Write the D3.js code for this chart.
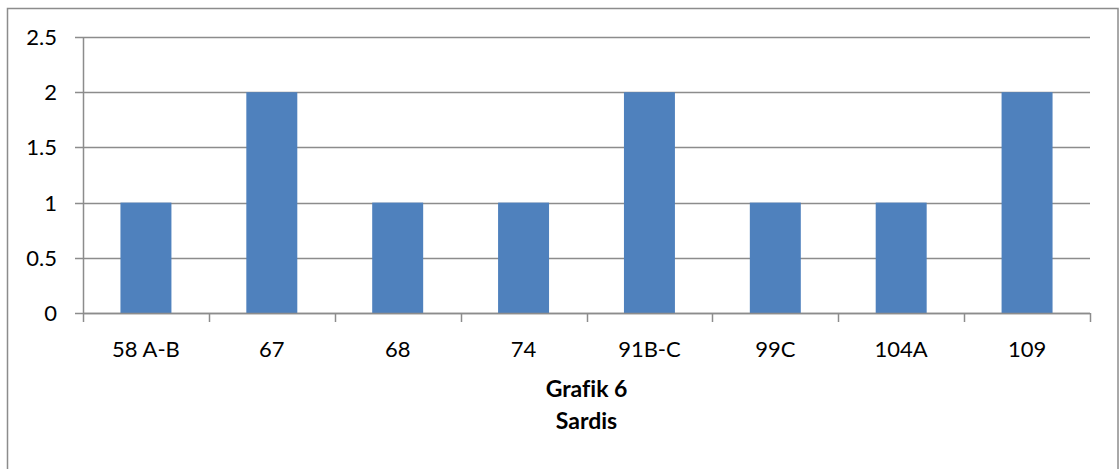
<!DOCTYPE html>
<html><head><meta charset="utf-8">
<script src="https://cdn.jsdelivr.net/npm/d3@7"></script>
<style>html,body{margin:0;padding:0;background:#fff;}svg{display:block;}text{font-variant-ligatures:none;}</style>
</head><body>
<svg id="c" width="1120" height="469"></svg>
<script>
const categories = ["58 A-B","67","68","74","91B-C","99C","104A","109"];
const values = [1,2,1,1,2,1,1,2];
const yTicks = [0,0.5,1,1.5,2,2.5];
const titleLines = ["Grafik 6","Sardis"];

const svg = d3.select("#c");
const font = "Lato, 'Open Sans', sans-serif";
const L = 83, R = 1090, T = 37, B = 313;

svg.append("rect").attr("x",7.5).attr("y",8.5).attr("width",1110.5).attr("height",470)
  .attr("fill","#fff").attr("stroke","#8c8c8c").attr("stroke-width",1.5);

const x = d3.scaleBand().domain(categories).range([L,R]).paddingInner(0.595).paddingOuter(0.2975);
const xb = d3.scaleBand().domain(categories).range([L,R]);
const y = d3.scaleLinear().domain([0,2.5]).range([B,T]);

svg.append("g").selectAll("line").data(yTicks).join("line")
  .attr("x1",L-8).attr("x2",R).attr("y1",d=>Math.round(y(d))+0.5).attr("y2",d=>Math.round(y(d))+0.5)
  .attr("stroke","#8c8c8c").attr("stroke-width",1.5);

svg.append("g").selectAll("rect").data(values).join("rect")
  .attr("x",(d,i)=>x(categories[i])).attr("width",x.bandwidth())
  .attr("y",d=>y(d)).attr("height",d=>B-y(d))
  .attr("fill","#4f81bd");

svg.append("line").attr("x1",L+0.5).attr("x2",L+0.5).attr("y1",T).attr("y2",B+0.5)
  .attr("stroke","#8c8c8c").attr("stroke-width",1.5);
svg.append("line").attr("x1",L).attr("x2",R).attr("y1",B+0.5).attr("y2",B+0.5)
  .attr("stroke","#8c8c8c").attr("stroke-width",1.5);
const bounds = categories.map(c=>xb(c)).concat([R]);
svg.append("g").selectAll("line").data(bounds).join("line")
  .attr("x1",d=>Math.round(d)+0.5).attr("x2",d=>Math.round(d)+0.5).attr("y1",B).attr("y2",B+9)
  .attr("stroke","#8c8c8c").attr("stroke-width",1.5);

svg.append("g").selectAll("text").data(yTicks).join("text")
  .attr("x",57).attr("y",d=>y(d)+8).attr("text-anchor","end")
  .attr("font-family",font).attr("font-size",22).attr("fill","#000")
  .text(d=>d3.format("~g")(d));

svg.append("g").selectAll("text").data(categories).join("text")
  .attr("x",d=>xb(d)+xb.bandwidth()/2).attr("y",357).attr("text-anchor","middle")
  .attr("font-family",font).attr("font-size",22).attr("fill","#000")
  .text(d=>d);

svg.append("g").selectAll("text").data(titleLines).join("text")
  .attr("x",(L+R)/2).attr("y",(d,i)=>397+i*32).attr("text-anchor","middle")
  .attr("font-family",font).attr("font-size",23).attr("font-weight","bold").attr("fill","#000")
  .text(d=>d);
</script>
</body></html>
